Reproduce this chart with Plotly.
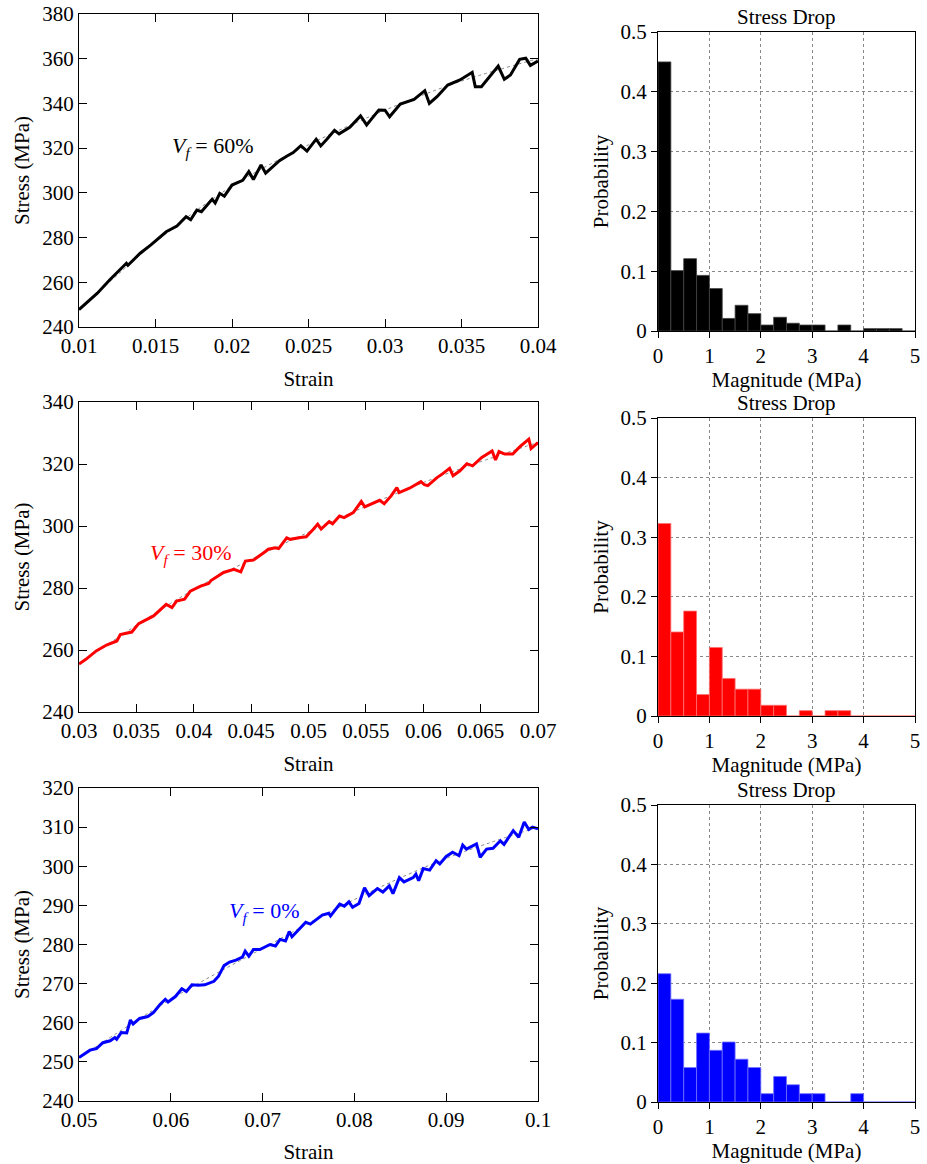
import plotly.graph_objects as go

# ---------------- data ----------------
strain_60 = [0.0100, 0.0112, 0.0120, 0.0129, 0.0131, 0.0132, 0.0140, 0.0147, 0.0152, 0.0157,
             0.0164, 0.0170, 0.0173, 0.0177, 0.0180, 0.0187, 0.0189, 0.0192, 0.0195, 0.0200,
             0.0207, 0.0211, 0.0214, 0.0219, 0.0222, 0.0226, 0.0231, 0.0236, 0.0240, 0.0245,
             0.0249, 0.0255, 0.0258, 0.0262, 0.0267, 0.0270, 0.0277, 0.0284, 0.0288, 0.0296,
             0.0300, 0.0303, 0.0310, 0.0319, 0.0326, 0.0329, 0.0334, 0.0341, 0.0349, 0.0357,
             0.0359, 0.0363, 0.0374, 0.0378, 0.0382, 0.0388, 0.0392, 0.0395, 0.0400]
stress_60 = [247.8, 255.1, 261.0, 267.0, 268.5, 267.6, 273.0, 276.7, 279.7, 282.6,
             285.2, 289.3, 288.0, 292.3, 291.6, 297.1, 295.5, 299.8, 298.5, 303.5,
             305.6, 309.5, 306.0, 312.5, 308.8, 311.4, 314.4, 316.5, 318.0, 321.1,
             318.7, 324.0, 321.0, 324.0, 328.0, 326.4, 329.3, 334.4, 330.4, 337.1,
             337.0, 334.0, 339.7, 341.8, 345.7, 340.0, 343.0, 348.2, 350.5, 353.9,
             347.5, 347.5, 356.7, 350.8, 352.7, 359.7, 360.2, 357.0, 359.0]

strain_30 = [0.0300, 0.0306, 0.0315, 0.0324, 0.0333, 0.0336, 0.0346, 0.0352, 0.0365, 0.0371,
             0.0376, 0.0381, 0.0385, 0.0392, 0.0397, 0.0406, 0.0413, 0.0415, 0.0426, 0.0435,
             0.0441, 0.0445, 0.0452, 0.0461, 0.0465, 0.0471, 0.0474, 0.0481, 0.0484, 0.0493,
             0.0498, 0.0504, 0.0508, 0.0511, 0.0518, 0.0521, 0.0527, 0.0531, 0.0539, 0.0546,
             0.0549, 0.0562, 0.0566, 0.0572, 0.0577, 0.0579, 0.0588, 0.0598, 0.0601, 0.0604,
             0.0612, 0.0617, 0.0623, 0.0626, 0.0632, 0.0638, 0.0643, 0.0651, 0.0660, 0.0663,
             0.0666, 0.0671, 0.0678, 0.0684, 0.0692, 0.0694, 0.0700]
stress_30 = [255.5, 257.0, 259.7, 261.6, 262.9, 265.0, 265.8, 268.5, 271.0, 272.9,
             274.7, 273.7, 275.8, 276.4, 279.0, 280.6, 281.5, 282.4, 285.0, 286.0,
             285.2, 288.7, 289.0, 291.4, 292.5, 293.0, 292.7, 296.2, 295.7, 296.3,
             296.5, 298.9, 300.6, 299.0, 301.4, 300.7, 303.2, 302.7, 304.3, 307.9,
             306.2, 308.3, 307.2, 309.7, 312.4, 310.8, 312.2, 314.3, 313.3, 313.0,
             315.6, 316.9, 318.6, 316.2, 317.8, 320.1, 319.4, 322.1, 324.2, 321.3,
             324.0, 323.2, 323.2, 325.5, 328.0, 325.0, 326.9]

strain_0 = [0.0500, 0.0512, 0.0519, 0.0526, 0.0534, 0.0539, 0.0541, 0.0546, 0.0552, 0.0556,
            0.0559, 0.0566, 0.0575, 0.0581, 0.0588, 0.0594, 0.0597, 0.0605, 0.0612, 0.0617,
            0.0623, 0.0630, 0.0637, 0.0647, 0.0652, 0.0658, 0.0664, 0.0671, 0.0678, 0.0681,
            0.0685, 0.0690, 0.0697, 0.0708, 0.0714, 0.0719, 0.0725, 0.0729, 0.0732, 0.0740,
            0.0747, 0.0752, 0.0765, 0.0772, 0.0774, 0.0784, 0.0789, 0.0794, 0.0798, 0.0805,
            0.0811, 0.0816, 0.0825, 0.0831, 0.0838, 0.0842, 0.0849, 0.0854, 0.0864, 0.0867,
            0.0870, 0.0875, 0.0882, 0.0889, 0.0893, 0.0900, 0.0907, 0.0914, 0.0918, 0.0922,
            0.0933, 0.0937, 0.0944, 0.0951, 0.0959, 0.0963, 0.0973, 0.0979, 0.0985, 0.0990,
            0.0994, 0.1000]
stress_0 = [251.1, 253.0, 253.4, 254.9, 255.4, 256.2, 255.8, 257.5, 257.4, 260.7,
            259.7, 261.1, 261.6, 262.6, 264.6, 266.0, 265.3, 266.7, 268.7, 268.0,
            269.7, 269.6, 269.7, 270.6, 271.9, 274.6, 275.5, 276.0, 276.8, 278.3,
            277.0, 278.7, 278.7, 280.0, 279.6, 281.3, 280.9, 283.3, 282.0, 283.9,
            285.7, 285.2, 287.5, 288.0, 287.3, 290.3, 289.8, 290.9, 289.5, 290.5,
            294.5, 292.5, 294.3, 293.4, 295.0, 293.0, 297.1, 296.0, 297.1, 298.0,
            296.3, 299.4, 299.0, 301.4, 300.6, 302.5, 303.6, 302.7, 305.4, 304.4,
            305.7, 302.3, 304.4, 304.6, 306.5, 305.6, 309.1, 307.4, 311.3, 309.4,
            310.0, 309.6]

# smooth trend lines (faint dotted)
trend_strain_60 = [0.010, 0.015, 0.020, 0.025, 0.030, 0.035, 0.040]
trend_stress_60 = [247.5, 278.0, 303.0, 321.5, 337.0, 350.0, 360.0]
trend_strain_30 = [0.030, 0.040, 0.050, 0.060, 0.070]
trend_stress_30 = [255.5, 279.5, 298.0, 314.0, 327.0]
trend_strain_0 = [0.050, 0.060, 0.070, 0.080, 0.090, 0.100]
trend_stress_0 = [251.0, 266.0, 279.0, 291.5, 302.0, 310.0]

# stress-drop histograms (bin edges 0..5 step 0.25)
bin_edges = [0.0, 0.25, 0.5, 0.75, 1.0, 1.25, 1.5, 1.75, 2.0, 2.25, 2.5,
             2.75, 3.0, 3.25, 3.5, 3.75, 4.0, 4.25, 4.5, 4.75, 5.0]
prob_60 = [0.450, 0.101, 0.121, 0.093, 0.071, 0.021, 0.043, 0.029, 0.010, 0.023,
           0.013, 0.010, 0.010, 0.0, 0.010, 0.0, 0.004, 0.004, 0.004, 0.0]
prob_30 = [0.323, 0.141, 0.176, 0.036, 0.115, 0.063, 0.045, 0.045, 0.018, 0.018,
           0.0, 0.009, 0.0, 0.009, 0.009, 0.0, 0.0, 0.0, 0.0, 0.0]
prob_0 = [0.216, 0.173, 0.058, 0.116, 0.087, 0.101, 0.072, 0.058, 0.014, 0.043,
          0.029, 0.014, 0.014, 0.0, 0.0, 0.014, 0.0, 0.0, 0.0, 0.0]

labels = ["60%", "30%", "0%"]
colors = ["#000000", "#ff0000", "#0000ff"]
edge_colors = ["#444444", "#ff7070", "#7070ff"]

x_ranges = [[0.01, 0.04], [0.03, 0.07], [0.05, 0.1]]
x_ticks = [[0.01, 0.015, 0.02, 0.025, 0.03, 0.035, 0.04],
           [0.03, 0.035, 0.04, 0.045, 0.05, 0.055, 0.06, 0.065, 0.07],
           [0.05, 0.06, 0.07, 0.08, 0.09, 0.1]]
x_ticktext = [["0.01", "0.015", "0.02", "0.025", "0.03", "0.035", "0.04"],
              ["0.03", "0.035", "0.04", "0.045", "0.05", "0.055", "0.06", "0.065", "0.07"],
              ["0.05", "0.06", "0.07", "0.08", "0.09", "0.1"]]
y_ranges = [[240, 380], [240, 340], [240, 320]]
y_dticks = [20, 20, 10]
label_pos = [(0.0187, 320.3), (0.0397, 290.9), (0.0702, 288.2)]

hist_xticks = [0, 1, 2, 3, 4, 5]
hist_yticks = [0, 0.1, 0.2, 0.3, 0.4, 0.5]
hist_yticktext = ["0", "0.1", "0.2", "0.3", "0.4", "0.5"]

curves = [(strain_60, stress_60, trend_strain_60, trend_stress_60, prob_60),
          (strain_30, stress_30, trend_strain_30, trend_stress_30, prob_30),
          (strain_0, stress_0, trend_strain_0, trend_stress_0, prob_0)]

# ---------------- layout geometry (pixels) ----------------
W, H = 927, 1164
left_x = (79, 538)
right_x = (658, 915)
left_rows = [(14, 327), (402, 712), (788, 1101)]
right_rows = [(32, 331), (418, 716), (805, 1102)]

FONT = "Liberation Serif, Times New Roman, Times, serif"
FS = 21

def xd(a, b):
    return [a / W, b / W]

def yd(t, b):
    return [1 - b / H, 1 - t / H]

fig = go.Figure()
layout = dict(
    width=W, height=H,
    margin=dict(l=0, r=0, t=0, b=0, autoexpand=False),
    paper_bgcolor="white", plot_bgcolor="white",
    showlegend=False,
    font=dict(family=FONT, size=FS, color="black"),
)
annotations = []

centers = [(bin_edges[i] + bin_edges[i + 1]) / 2 for i in range(len(bin_edges) - 1)]
widths = [bin_edges[i + 1] - bin_edges[i] for i in range(len(bin_edges) - 1)]

for i, (sx, sy, tx, ty, prob) in enumerate(curves):
    la = 2 * i + 1
    ra = 2 * i + 2
    lx = "x" if la == 1 else f"x{la}"
    ly = "y" if la == 1 else f"y{la}"
    rx = f"x{ra}"
    ry = f"y{ra}"

    fig.add_trace(go.Scatter(x=tx, y=ty, mode="lines", xaxis=lx, yaxis=ly,
                             line=dict(color="#888888", width=1, dash="dot", shape="spline"),
                             hoverinfo="skip"))
    fig.add_trace(go.Scatter(x=sx, y=sy, mode="lines", xaxis=lx, yaxis=ly,
                             line=dict(color=colors[i], width=3)))
    fig.add_trace(go.Bar(x=centers, y=prob, width=widths, xaxis=rx, yaxis=ry,
                         marker=dict(color=colors[i], line=dict(color=edge_colors[i], width=0.8))))

    lr = left_rows[i]
    rr = right_rows[i]
    layout["xaxis" if la == 1 else f"xaxis{la}"] = dict(
        domain=xd(*left_x), anchor=ly, range=x_ranges[i], automargin=False,
        tickvals=x_ticks[i], ticktext=x_ticktext[i],
        ticks="inside", ticklen=8, tickcolor="black", showline=True, linecolor="black",
        linewidth=1, mirror="allticks", showgrid=False, zeroline=False,
        title=dict(text="Strain", standoff=14, font=dict(family=FONT, size=FS)),
        tickfont=dict(family=FONT, size=FS),
    )
    layout["yaxis" if la == 1 else f"yaxis{la}"] = dict(
        domain=yd(*lr), anchor=lx, range=y_ranges[i], dtick=y_dticks[i], automargin=False,
        ticks="inside", ticklen=8, tickcolor="black", showline=True, linecolor="black",
        linewidth=1, mirror="allticks", showgrid=False, zeroline=False,
        title=dict(text="Stress (MPa)", standoff=6, font=dict(family=FONT, size=FS)),
        tickfont=dict(family=FONT, size=FS),
    )
    layout[f"xaxis{ra}"] = dict(
        domain=xd(*right_x), anchor=ry, range=[0, 5], automargin=False,
        tickvals=hist_xticks, ticks="outside", ticklen=6, tickcolor="black",
        showline=True, linecolor="black", linewidth=1, mirror=True,
        showgrid=True, gridcolor="#888888", griddash="dot", gridwidth=1, zeroline=False,
        title=dict(text="Magnitude (MPa)", standoff=0, font=dict(family=FONT, size=FS)),
        tickfont=dict(family=FONT, size=FS),
    )
    layout[f"yaxis{ra}"] = dict(
        domain=yd(*rr), anchor=rx, range=[0, 0.5], automargin=False,
        tickvals=hist_yticks, ticktext=hist_yticktext, ticks="outside", ticklen=6,
        tickcolor="black", showline=True, linecolor="black", linewidth=1, mirror=True,
        showgrid=True, gridcolor="#888888", griddash="dot", gridwidth=1, zeroline=False,
        title=dict(text="Probability", standoff=6, font=dict(family=FONT, size=FS)),
        tickfont=dict(family=FONT, size=FS),
    )

    # curve label
    annotations.append(dict(
        x=label_pos[i][0], y=label_pos[i][1], xref=lx, yref=ly,
        text=f"<i>V</i><sub><i>f</i></sub> = {labels[i]}", showarrow=False,
        font=dict(family=FONT, size=22, color=colors[i]),
        xanchor="center", yanchor="middle",
    ))
    # histogram title
    annotations.append(dict(
        x=(right_x[0] + right_x[1]) / 2 / W, y=1 - (rr[0] - 1) / H,
        xref="paper", yref="paper", text="Stress Drop", showarrow=False,
        font=dict(family=FONT, size=FS, color="black"),
        xanchor="center", yanchor="bottom",
    ))

layout["annotations"] = annotations
layout["bargap"] = 0
fig.update_layout(**layout)
fig.write_html("out.html",
               config={"displayModeBar": False, "staticPlot": True},
               post_script="document.body.style.margin='0';document.body.style.overflow='hidden';")
